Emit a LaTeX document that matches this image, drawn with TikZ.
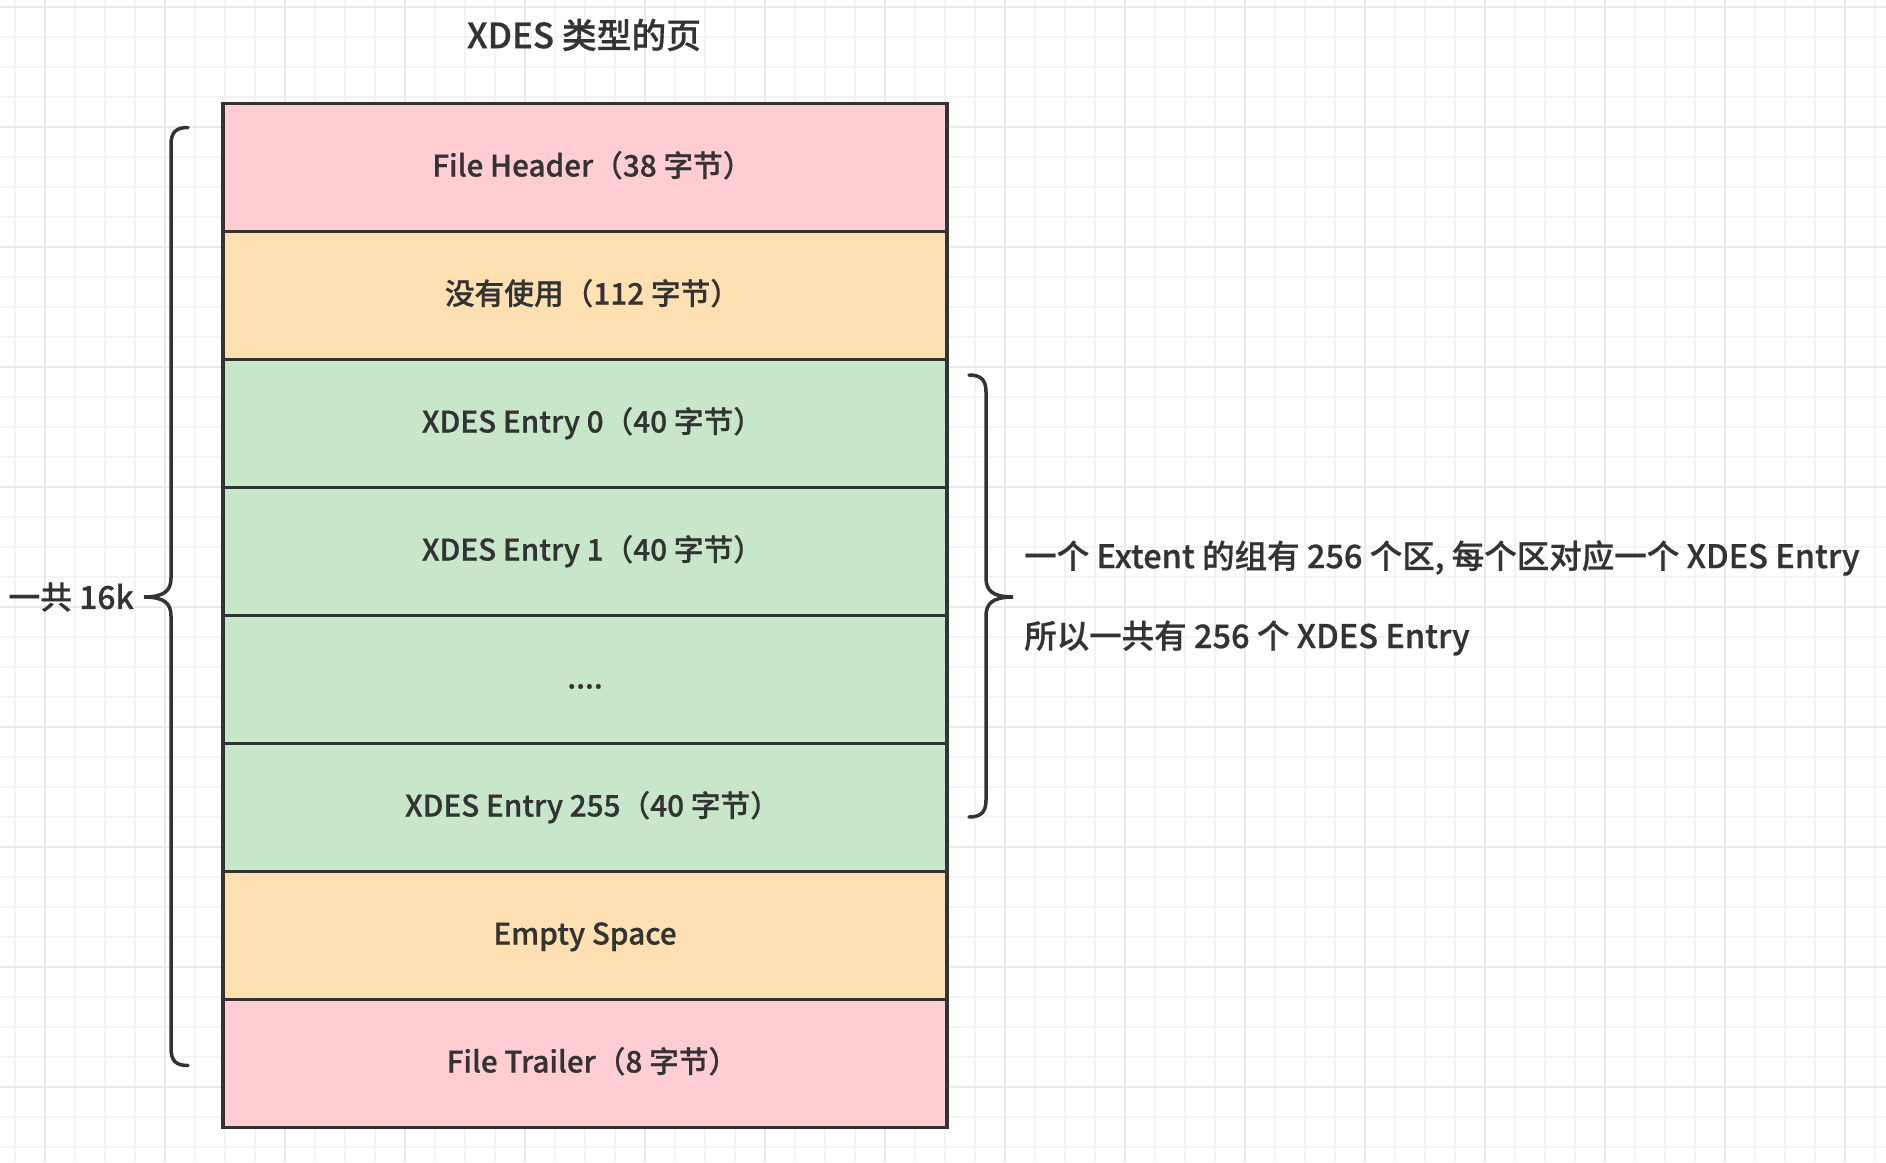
\documentclass[tikz,border=0pt]{standalone}
\usepackage{fontspec}
\setmainfont{Noto Sans CJK SC Medium}[FakeBold=0.6]
\definecolor{pinkc}{HTML}{FFCDD2}
\definecolor{orangec}{HTML}{FFE0B2}
\definecolor{greenc}{HTML}{C8E6C9}
\definecolor{inkc}{HTML}{333333}
\definecolor{gridminor}{HTML}{F3F3F3}
\definecolor{gridmajor}{HTML}{E9E9E9}
\newcommand{\rparfix}{）\kern-0.5em}
\tikzset{
  rowbox/.style={draw=inkc, line width=3.5pt, minimum width=724pt, minimum height=128pt,
    inner sep=0pt, text height=22pt, text depth=4pt, text=inkc,
    font=\fontsize{29.7}{31}\selectfont},
  bracepath/.style={draw=inkc, line width=3.5pt, line cap=round},
  sidetext/.style={text=inkc, inner sep=0pt, font=\fontsize{32.5}{34}\selectfont},
}
\begin{document}
\begin{tikzpicture}[x=1pt,y=-1pt]
\useasboundingbox (0,0) rectangle (1886,1162);
\fill[white] (0,0) rectangle (1886,1162);
% grid
\foreach \x in {15,45,...,1875} \draw[gridminor, line width=1.5pt] (\x,0) -- (\x,1162);
\foreach \y in {7,37,...,1160} \draw[gridminor, line width=1.5pt] (0,\y) -- (1886,\y);
\foreach \x in {45,165,...,1845} \draw[gridmajor, line width=1.5pt] (\x,0) -- (\x,1162);
\foreach \y in {7,127,...,1087} \draw[gridmajor, line width=1.5pt] (0,\y) -- (1886,\y);
% title
\node[text=inkc, font=\fontsize{34.8}{36}\selectfont] (title) at (584,35) {XDES 类型的页};
% rows
\node[rowbox, fill=pinkc] (r1) at (585,167.5) {File Header（38 字节\rparfix};
\node[rowbox, fill=orangec] (r2) at (585,295.5) {没有使用（112 字节\rparfix};
\node[rowbox, fill=greenc] (r3) at (585,423.5) {XDES Entry 0（40 字节\rparfix};
\node[rowbox, fill=greenc] (r4) at (585,551.5) {XDES Entry 1（40 字节\rparfix};
\node[rowbox, fill=greenc] (r5) at (585,679.5) {....};
\node[rowbox, fill=greenc] (r6) at (585,807.5) {XDES Entry 255（40 字节\rparfix};
\node[rowbox, fill=orangec] (r7) at (585,935.5) {Empty Space};
\node[rowbox, fill=pinkc] (r8) at (585,1063.5) {File Trailer（8 字节\rparfix};
% left brace
\draw[bracepath] (188,127.5) .. controls (176,127.5) and (171,132) .. (171,145)
  -- (171,578) .. controls (171,590) and (165,597) .. (144,597)
  .. controls (165,597) and (171,604) .. (171,616)
  -- (171,1048) .. controls (171,1061) and (176,1065.5) .. (188,1065.5);
\node[sidetext, anchor=east, font=\fontsize{31.8}{33}\selectfont] (total) at (134,597) {一共 16k};
% right brace
\draw[bracepath] (969,375) .. controls (981,375) and (986,380) .. (986,392)
  -- (986,578) .. controls (986,590) and (992,597) .. (1013,597)
  .. controls (992,597) and (986,604) .. (986,616)
  -- (986,800) .. controls (986,812) and (981,817) .. (969,817);
\node[sidetext, anchor=west] (note1) at (1024,558) {一个 Extent 的组有 256 个区, 每个区对应一个 XDES Entry};
\node[sidetext, anchor=west] (note2) at (1024,638) {所以一共有 256 个 XDES Entry};
\end{tikzpicture}
\end{document}
